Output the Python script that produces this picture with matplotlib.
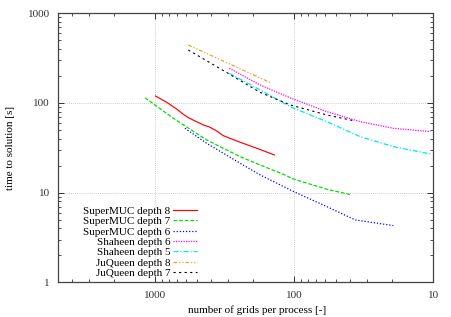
import matplotlib
matplotlib.use("Agg")
import matplotlib.pyplot as plt
from matplotlib.ticker import LogLocator, NullFormatter

plt.rcParams['font.family'] = ['Liberation Serif', 'DejaVu Serif']

# grids per process / time to solution [s]
superMuc8_x = [1000, 830, 704, 630, 580, 519, 452, 405, 362, 325, 246, 187, 139]
superMuc8_y = [119.7, 101.8, 85.7, 74.8, 68.6, 63.0, 56.9, 53.6, 48.7, 43.2, 36.5, 31.3, 26.3]

superMuc7_x = [1190, 744, 428, 246, 177, 120, 101.6, 58.4, 38.6]
superMuc7_y = [114.6, 67.5, 38.7, 25.2, 20.4, 16.0, 14.2, 10.9, 9.43]

superMuc6_x = [613, 428, 246, 177, 101.6, 58.4, 36.5, 19.4]
superMuc6_y = [52.2, 35.5, 21.3, 15.8, 10.3, 6.98, 4.96, 4.29]

shaheen6_x = [294, 177, 107, 58.4, 33.6, 19.4, 10.5]
shaheen6_y = [244, 159, 114, 80, 61.9, 52.2, 47.9]

shaheen5_x = [294, 177, 104, 58.4, 33.6, 19.4, 10.5]
shaheen5_y = [214, 140, 89, 61.9, 42.1, 32.6, 27.0]

juQueen8_x = [580, 145.5]
juQueen8_y = [443, 166]

juQueen7_x = [580, 300, 177, 107, 58.4, 37.6]
juQueen7_y = [390, 214, 131.6, 95, 73.5, 63.5]

xTicks = [1000, 100, 10]
yTicks = [1, 10, 100, 1000]

fig = plt.figure(figsize=(4.52, 3.17), dpi=100)
ax = fig.add_axes([0.129, 0.1095, 0.8297, 0.8485])

ax.plot(superMuc8_x, superMuc8_y, color='#ff0000', lw=0.85, linestyle='-', label='SuperMUC depth 8')
ax.plot(superMuc7_x, superMuc7_y, color='#00e000', lw=0.9, linestyle=(0, (3, 1.5)), label='SuperMUC depth 7')
ax.plot(superMuc6_x, superMuc6_y, color='#0000ff', lw=0.9, linestyle=(0, (1, 1.5)), label='SuperMUC depth 6')
ax.plot(shaheen6_x, shaheen6_y, color='#ff00ff', lw=0.9, linestyle=(0, (1, 1)), label='Shaheen depth 6')
ax.plot(shaheen5_x, shaheen5_y, color='#00e8f0', lw=0.9, linestyle=(0, (4, 1.5, 1, 1.5)), label='Shaheen depth 5')
ax.plot(juQueen8_x, juQueen8_y, color='#e8a030', lw=0.9, linestyle=(0, (3, 1.5, 1, 1.5, 1, 1.5)), label='JuQueen depth 8')
ax.plot(juQueen7_x, juQueen7_y, color='#000000', lw=0.8, linestyle=(0, (2, 3)), label='JuQueen depth 7')

ax.set_xscale('log')
ax.set_yscale('log')
ax.set_xlim(5000, 10)
ax.set_ylim(1, 1000)

ax.set_xticks(xTicks)
ax.set_xticklabels([str(t) for t in xTicks])
ax.set_yticks(yTicks)
ax.set_yticklabels([str(t) for t in yTicks])
ax.xaxis.set_minor_locator(LogLocator(base=10, subs=range(2, 10)))
ax.yaxis.set_minor_locator(LogLocator(base=10, subs=range(2, 10)))
ax.xaxis.set_minor_formatter(NullFormatter())
ax.yaxis.set_minor_formatter(NullFormatter())

ax.tick_params(which='both', direction='in', top=True, right=True, labelsize=8, colors='#333333')
ax.tick_params(which='major', length=4, width=0.7, pad=6)
ax.tick_params(which='minor', length=2, width=0.6)
for s in ax.spines.values():
    s.set_color('#444444')
    s.set_linewidth(0.9)

ax.grid(True, which='major', color='#bbbbbb', linestyle=(0, (1, 1.5)), linewidth=0.6)

ax.set_xlabel('number of grids per process [-]', fontsize=8)
ax.set_ylabel('time to solution [s]', fontsize=8)
ax.xaxis.set_label_coords(0.531, -0.085)
ax.yaxis.set_label_coords(-0.115, 0.5)

ax.legend(loc='lower right', bbox_to_anchor=(0.383, 0.0), frameon=False, fontsize=8,
          markerfirst=False, handlelength=2.2, handletextpad=0.25, labelspacing=0.05,
          borderaxespad=0)

fig.savefig('out.png', dpi=100)
